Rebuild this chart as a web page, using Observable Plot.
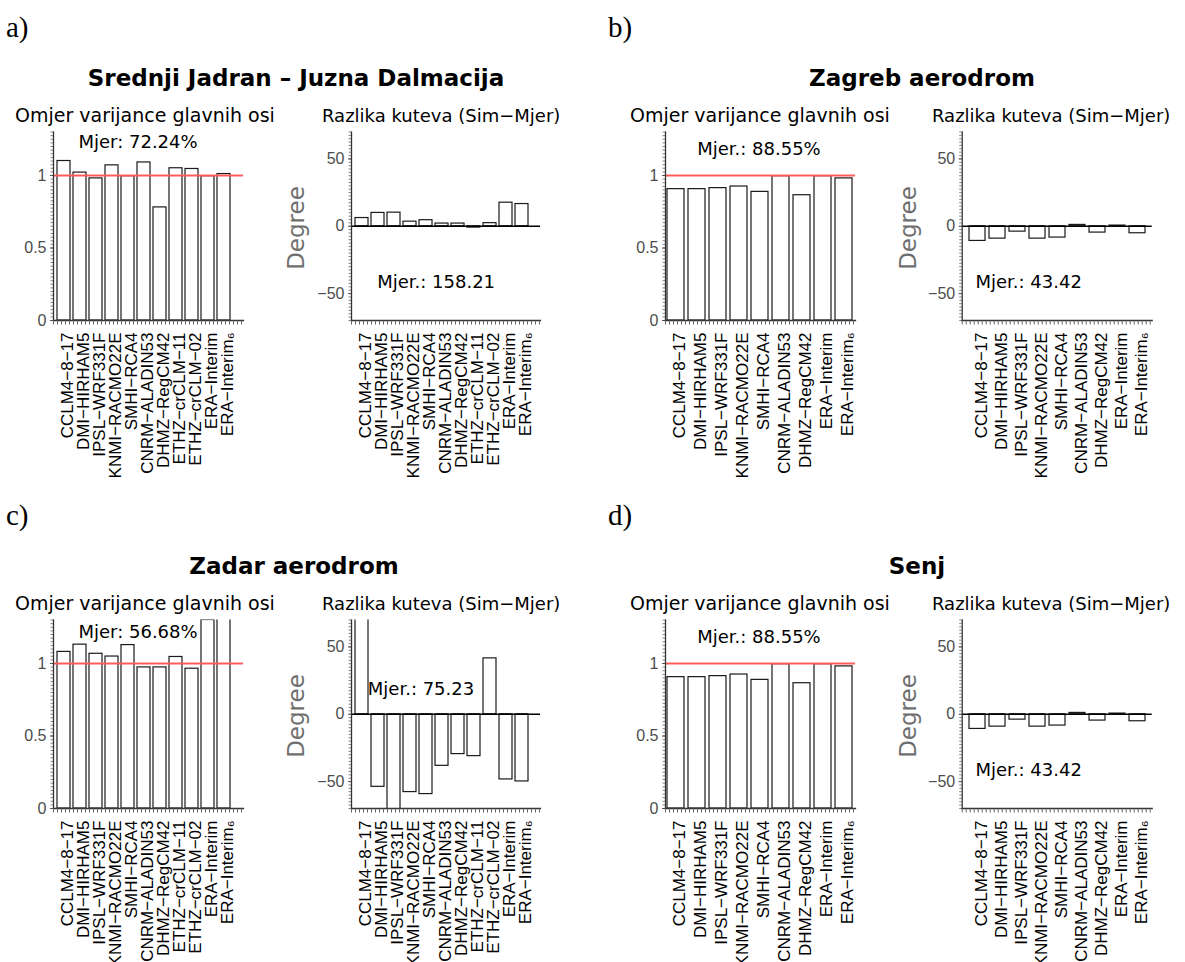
<!DOCTYPE html>
<html><head><meta charset="utf-8">
<script src="https://cdn.jsdelivr.net/npm/d3@7"></script>
<script src="https://cdn.jsdelivr.net/npm/@observablehq/plot@0.6"></script>
<style>
body{margin:0;background:#fff}
#wrap{position:relative;width:1185px;height:962px;overflow:hidden;background:#fff}
.p{position:absolute}
#overlay{position:absolute;left:0;top:0;pointer-events:none}
</style></head><body><div id="wrap"></div>
<script>
// ---- data ----
const models11 = ["CCLM4−8−17","DMI−HIRHAM5","IPSL−WRF331F","KNMI−RACMO22E","SMHI−RCA4","CNRM−ALADIN53","DHMZ−RegCM42","ETHZ−crCLM−11","ETHZ−crCLM−02","ERA−Interim","ERA−Interim₆"];
const models9 = ["CCLM4−8−17","DMI−HIRHAM5","IPSL−WRF331F","KNMI−RACMO22E","SMHI−RCA4","CNRM−ALADIN53","DHMZ−RegCM42","ERA−Interim","ERA−Interim₆"];

const ratioA = [1.10,1.02,0.98,1.07,0.995,1.09,0.78,1.05,1.045,0.995,1.01];
const angleA = [6.1,9.9,10.1,3.4,4.5,2.0,2.0,-1.0,2.3,17.5,16.5];
const ratioB = [0.906,0.906,0.913,0.924,0.887,0.995,0.864,0.995,0.98];
const angleB = [-10.9,-9.2,-4.0,-9.2,-8.4,1.0,-4.7,0.5,-5.2];
const ratioC = [1.08,1.13,1.067,1.048,1.127,0.973,0.973,1.045,0.964,1.30,1.45];
const angleC = [95,-53.9,-85,-57.8,-59.3,-38.3,-29.6,-31.1,41.5,-48.4,-49.9];
const ratioD = [0.906,0.906,0.913,0.924,0.887,0.995,0.864,0.995,0.98];
const angleD = [-10.9,-9.2,-4.0,-9.2,-8.4,1.0,-4.7,0.5,-5.2];

const panelLetters = ["a)","b)","c)","d)"];
const stationTitles = ["Srednji Jadran – Juzna Dalmacija","Zagreb aerodrom","Zadar aerodrom","Senj"];
const leftSubtitle = "Omjer varijance glavnih osi";
const rightSubtitle = "Razlika kuteva (Sim−Mjer)";
const ratioNotes = ["Mjer: 72.24%","Mjer.: 88.55%","Mjer: 56.68%","Mjer.: 88.55%"];
const angleNotes = ["Mjer.: 158.21","Mjer.: 43.42","Mjer.: 75.23","Mjer.: 43.42"];
const ratioTicks = [0,0.5,1];
const angleTicks = [-50,0,50];
const yLabel = "Degree";

// ---- layout ----
const wrap = document.getElementById("wrap");
const fmt = d => d < 0 ? "−" + Math.abs(d) : String(d);
const sans = "Liberation Sans, Arial, sans-serif";
const gothic = "DejaVu Sans, sans-serif";
const labelSize = 17;
const tickSize = 16;

function place(node, g){
  const div = document.createElement("div");
  div.className = "p";
  div.style.left = g.left + "px"; div.style.top = g.top + "px";
  div.style.width = g.width + "px"; div.style.height = g.height + "px";
  div.appendChild(node);
  wrap.appendChild(div);
}

function common(cats, g){
  return {
    width: g.width, height: g.height,
    marginLeft: g.ml, marginRight: g.mr, marginTop: 31.5, marginBottom: g.height - 220,
    x: {domain: cats, range: [g.ml + g.offL, g.width - g.mr - g.offR], paddingInner: 0.18, paddingOuter: 0},
    style: {fontFamily: sans, background: "transparent"}
  };
}

function ratioPlot(cats, vals, note, g){
  const data = cats.map((m,i)=>({model:m, value: vals[i]}));
  return Plot.plot({
    ...common(cats, g),
    y: {domain: [0, 1.3]},
    marks: [
      Plot.barY(data, {x:"model", y:"value", fill:"white", stroke:"#1a1a1a", strokeWidth:1.2, clip:true}),
      Plot.ruleY([1], {stroke:"#ff5c5c", strokeWidth:1.8}),
      Plot.axisY(d3.range(0, 1.3001, 0.025), {tickSize:2.5, tickFormat:()=>"", stroke:"#888", label:null}),
      Plot.axisY(ratioTicks, {tickSize:3, tickPadding:4, tickFormat:fmt, fontSize:tickSize, fill:"#4d4d4d", stroke:"#555", label:null}),
      Plot.frame({anchor:"left", stroke:"#333", strokeWidth:1.3}),
      Plot.frame({anchor:"bottom", stroke:"#333", strokeWidth:1.3}),
      Plot.ruleY([0], {stroke:"#666", strokeDasharray:"1,3", strokeWidth:4, dy:2}),
      Plot.axisX({tickRotate:-90, tickSize:0, tickPadding:12, fontSize:labelSize, fill:"black", label:null, dx:4}),
      Plot.text([note], {frameAnchor:"top-left", dx:g.tdx, dy:g.tdy, textAnchor:"start", lineAnchor:"middle", fontSize:18, fontFamily:gothic, fill:"black"})
    ]
  });
}

function anglePlot(cats, vals, note, g){
  const data = cats.map((m,i)=>({model:m, value: vals[i]}));
  return Plot.plot({
    ...common(cats, g),
    y: {domain: [-70, 70]},
    marks: [
      Plot.barY(data, {x:"model", y:"value", fill:"white", stroke:"#1a1a1a", strokeWidth:1.2, clip:true}),
      Plot.ruleY([0], {stroke:"black", strokeWidth:1.3}),
      Plot.axisY(d3.range(-70, 70.001, 2.5), {tickSize:2.5, tickFormat:()=>"", stroke:"#888", label:null}),
      Plot.axisY(angleTicks, {tickSize:3, tickPadding:4, tickFormat:fmt, fontSize:tickSize, fill:"#4d4d4d", stroke:"#555", label:null}),
      Plot.frame({anchor:"left", stroke:"#333", strokeWidth:1.3}),
      Plot.frame({anchor:"bottom", stroke:"#333", strokeWidth:1.3}),
      Plot.ruleY([-70], {stroke:"#666", strokeDasharray:"1,3", strokeWidth:4, dy:2}),
      Plot.axisX({tickRotate:-90, tickSize:0, tickPadding:12, fontSize:labelSize, fill:"black", label:null, dx:4}),
      Plot.text([note], {frameAnchor:"top-left", dx:g.tdx, dy:g.tdy, textAnchor:"start", lineAnchor:"middle", fontSize:18, fontFamily:gothic, fill:"black"})
    ]
  });
}

const rowTop = [100, 588];
const rowHeight = [400, 374];
const geomLeftA  = {left:0,   width:270, ml:53,   mr:27,   offL:2,   offR:10.3};
const geomRightA = {left:280, width:290, ml:71,   mr:30,   offL:2.3, offR:9.3};
const geomLeftB  = {left:600, width:280, ml:65,   mr:25,   offL:1.7, offR:2.7};
const geomRightB = {left:880, width:305, ml:81.7, mr:33.3, offL:3.3, offR:2.4};

const panels = [
  {cats:models11, ratio:ratioA, angle:angleA, row:0, L:geomLeftA, R:geomRightA, lt:[25,10], rt:[25.7,150]},
  {cats:models9,  ratio:ratioB, angle:angleB, row:0, L:geomLeftB, R:geomRightB, lt:[31.7,17], rt:[13.3,150]},
  {cats:models11, ratio:ratioC, angle:angleC, row:1, L:geomLeftA, R:geomRightA, lt:[25,12], rt:[16.3,69]},
  {cats:models9,  ratio:ratioD, angle:angleD, row:1, L:geomLeftB, R:geomRightB, lt:[31.7,17], rt:[13.3,150]}
];

panels.forEach((p,i)=>{
  const top = rowTop[p.row], height = rowHeight[p.row];
  const gl = {...p.L, top, height, tdx:p.lt[0], tdy:p.lt[1]};
  const gr = {...p.R, top, height, tdx:p.rt[0], tdy:p.rt[1]};
  place(ratioPlot(p.cats, p.ratio, ratioNotes[i], gl), gl);
  place(anglePlot(p.cats, p.angle, angleNotes[i], gr), gr);
});

// ---- overlay texts ----
const ov = d3.select(wrap).append("svg").attr("id","overlay").attr("width",1185).attr("height",962);
const letterPos = [[6,37],[608,37],[6,525],[608,525]];
const titlePos = [[296,86],[922,86],[294,574],[917,574]];
const subPos = [[15,322,122],[630,932,122],[15,322,610],[630,932,610]];
const degPos = [[295.5,228],[907.5,228],[295.5,716],[907.5,716]];
panelLetters.forEach((t,i)=>{
  ov.append("text").attr("x",letterPos[i][0]).attr("y",letterPos[i][1]).attr("font-family","Liberation Serif, serif").attr("font-size",29).text(t);
  ov.append("text").attr("x",titlePos[i][0]).attr("y",titlePos[i][1]).attr("text-anchor","middle").attr("font-family",gothic).attr("font-weight","bold").attr("font-size",23).text(stationTitles[i]);
  ov.append("text").attr("x",subPos[i][0]).attr("y",subPos[i][2]).attr("font-family",gothic).attr("font-size",19).text(leftSubtitle);
  ov.append("text").attr("x",subPos[i][1]).attr("y",subPos[i][2]).attr("font-family",gothic).attr("font-size",18).text(rightSubtitle);
  ov.append("text").attr("transform",`translate(${degPos[i][0]},${degPos[i][1]}) rotate(-90)`).attr("text-anchor","middle").attr("dominant-baseline","central").attr("font-family",gothic).attr("font-size",23).attr("fill","#6e6e6e").text(yLabel);
});
</script></body></html>
